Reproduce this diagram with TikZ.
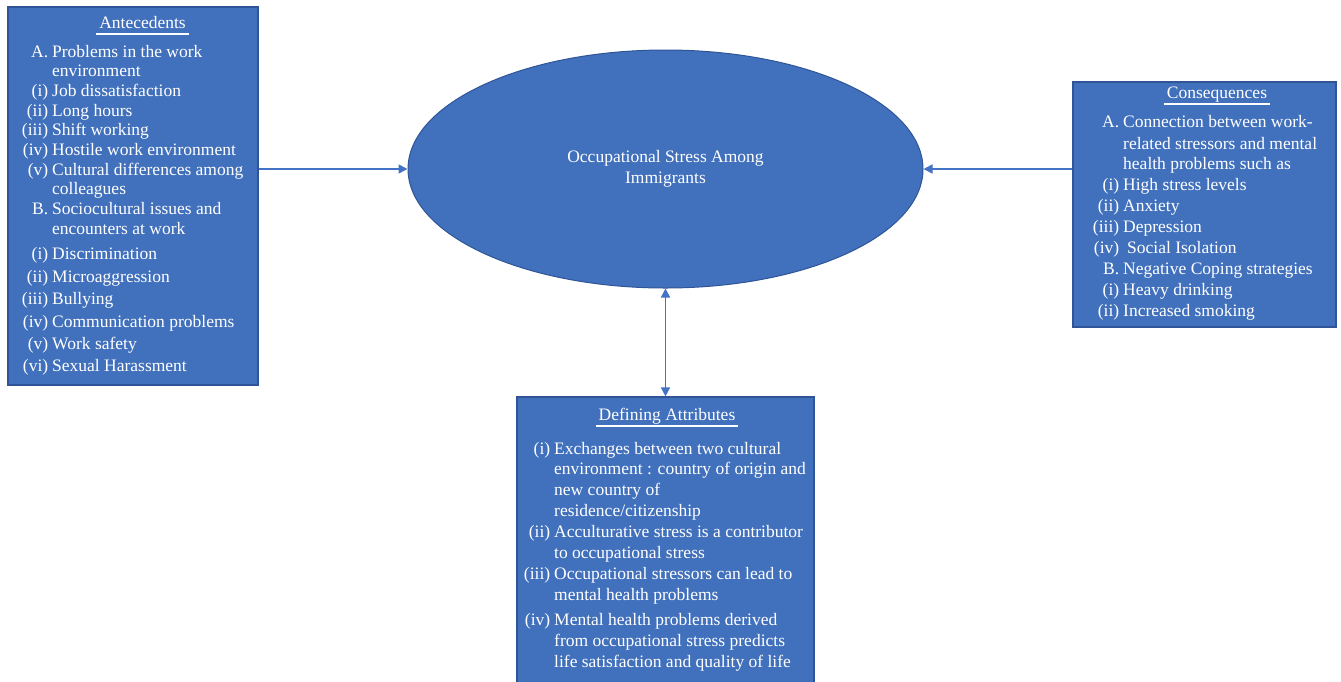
\documentclass[tikz,border=0pt]{standalone}
\usepackage{fontspec}
\setmainfont{Liberation Serif}
\usetikzlibrary{shapes.geometric,arrows.meta}
\definecolor{boxblue}{HTML}{4170BC}
\definecolor{edgeblue}{HTML}{2F5597}
\definecolor{linkblue}{HTML}{4472C4}
\newcommand{\lab}[1]{\makebox[28pt][r]{#1}\hspace{4pt}}
\newcommand{\cont}{\makebox[32pt]{}}
\begin{document}
\begin{tikzpicture}[x=1pt,y=-1pt,
  box/.style={draw=edgeblue, line width=1.2pt, fill=boxblue, inner sep=0, rectangle},
  body/.style={text=white, inner sep=0, anchor=base west},
  head/.style={text=white, inner sep=0, anchor=base, font=\fontsize{17.5}{21}\selectfont},
  uline/.style={white, line width=1.4pt},
  link/.style={linkblue, line width=1.6pt},
  ellnode/.style={ellipse, draw=edgeblue, line width=1pt, fill=boxblue, inner sep=0,
    minimum width=515pt, minimum height=238pt, text=white, align=center,
    font=\fontsize{17.5}{21}\selectfont},
  ]
\useasboundingbox (0,0) rectangle (1341,681);
\clip (0,0) rectangle (1341,681);

% boxes
\node[box, minimum width=250pt, minimum height=378pt] (lb) at (133,196) {};
\node[box, minimum width=263pt, minimum height=245pt] (rb) at (1204.5,204.5) {};
\node[box, minimum width=297pt, minimum height=292pt] (bb) at (665.5,543) {};

% ellipse
\node[ellnode] (ell) at (665.5,169) {Occupational Stress Among\\Immigrants};

% headings
\node[head] (h1) at (142.5,28) {Antecedents};
\node[head] (h2) at (1217,98) {Consequences};
\node[head] (h3) at (667,420) {Defining Attributes};
\draw[uline] ([shift={(-3pt,-6pt)}]h1.base west) -- ([shift={(3pt,-6pt)}]h1.base east);
\draw[uline] ([shift={(-3pt,-6pt)}]h2.base west) -- ([shift={(3pt,-6pt)}]h2.base east);
\draw[uline] ([shift={(-3pt,-6pt)}]h3.base west) -- ([shift={(3pt,-6pt)}]h3.base east);

% left body
\node[body, font=\fontsize{17.5}{19.7}\selectfont] (t1) at (20,57) {\begin{tabular}[t]{@{}l@{}}
\lab{A.}Problems in the work\\
\cont environment\\
\lab{(i)}Job dissatisfaction\\
\lab{(ii)}Long hours\\
\lab{(iii)}Shift working\\
\lab{(iv)}Hostile work environment\\
\lab{(v)}Cultural differences among\\
\cont colleagues\\[0.3pt]
\lab{B.}Sociocultural issues and\\[0.3pt]
\cont encounters at work\\[5.3pt]
\lab{(i)}Discrimination\\[2.7pt]
\lab{(ii)}Microaggression\\[2.7pt]
\lab{(iii)}Bullying\\[2.7pt]
\lab{(iv)}Communication problems\\[2.7pt]
\lab{(v)}Work safety\\[2.7pt]
\lab{(vi)}Sexual Harassment
\end{tabular}};

% right body
\node[body, font=\fontsize{17.5}{21}\selectfont] (t2) at (1091,127) {\begin{tabular}[t]{@{}l@{}}
\lab{A.}Connection between work-\\[1pt]
\cont related stressors and mental\\[-1pt]
\cont health problems such as\\
\lab{(i)}High stress levels\\
\lab{(ii)}Anxiety\\
\lab{(iii)}Depression\\
\lab{(iv)}\hspace{4pt}Social Isolation\\
\lab{B.}Negative Coping strategies\\
\lab{(i)}Heavy drinking\\
\lab{(ii)}Increased smoking
\end{tabular}};

% bottom body
\node[body, font=\fontsize{17.5}{20.8}\selectfont] (t3) at (522,454) {\begin{tabular}[t]{@{}l@{}}
\lab{(i)}Exchanges between two cultural\\
\cont environment : country of origin and\\
\cont new country of\\
\cont residence/citizenship\\
\lab{(ii)}Acculturative stress is a contributor\\
\cont to occupational stress\\[1pt]
\lab{(iii)}Occupational stressors can lead to\\
\cont mental health problems\\[4pt]
\lab{(iv)}Mental health problems derived\\
\cont from occupational stress predicts\\
\cont life satisfaction and quality of life
\end{tabular}};

% connectors
\draw[link, -{Triangle[length=9pt,width=9pt]}] (ell.west -| lb.east) -- (ell.west);
\draw[link, -{Triangle[length=9pt,width=9pt]}] (ell.east -| rb.west) -- (ell.east);
\draw[link, {Triangle[length=9pt,width=9pt]}-{Triangle[length=9pt,width=9pt]}] (ell.south) -- (ell.south |- bb.north);
\end{tikzpicture}
\end{document}
